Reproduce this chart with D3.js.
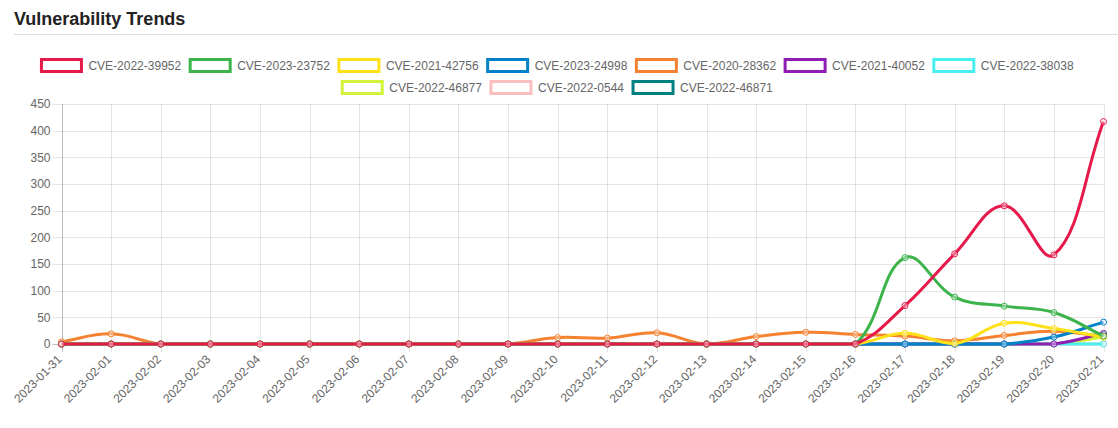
<!DOCTYPE html>
<html>
<head>
<meta charset="utf-8">
<script src="https://cdn.jsdelivr.net/npm/d3@7"></script>
<style>
  html, body { margin: 0; padding: 0; background: #fff; }
  body { width: 1118px; height: 428px; overflow: hidden; font-family: "Liberation Sans", Arial, Helvetica, sans-serif; }
</style>
</head>
<body>
<svg id="chart" width="1118" height="428"></svg>
<script>
// ---------- DATA ----------
const dates = ["2023-01-31","2023-02-01","2023-02-02","2023-02-03","2023-02-04","2023-02-05","2023-02-06","2023-02-07","2023-02-08","2023-02-09","2023-02-10","2023-02-11","2023-02-12","2023-02-13","2023-02-14","2023-02-15","2023-02-16","2023-02-17","2023-02-18","2023-02-19","2023-02-20","2023-02-21"];
const seriesNames = ["CVE-2022-39952","CVE-2023-23752","CVE-2021-42756","CVE-2023-24998","CVE-2020-28362","CVE-2021-40052","CVE-2022-38038","CVE-2022-46877","CVE-2022-0544","CVE-2022-46871"];
const seriesColors = ["#e6194b","#3cb44b","#ffe119","#0082c8","#f58231","#911eb4","#46f0f0","#d2f53c","#fabebe","#008080"];
const cve_2022_39952 = [0,0,0,0,0,0,0,0,0,0,0,0,0,0,0,0,0,72,169,259,167,417];
const cve_2023_23752 = [0,0,0,0,0,0,0,0,0,0,0,0,0,0,0,0,0,162,88,71,59,15];
const cve_2021_42756 = [0,0,0,0,0,0,0,0,0,0,0,0,0,0,0,0,0,20,1,39,29,13];
const cve_2023_24998 = [0,0,0,0,0,0,0,0,0,0,0,0,0,0,0,0,0,0,0,0,13,41];
const cve_2020_28362 = [4,19,0,0,0,0,0,0,0,0,12,11,21,0,14,22,18,15,6,16,24,14];
const cve_2021_40052 = [0,0,0,0,0,0,0,0,0,0,0,0,0,0,0,0,0,0,0,0,0,20];
const cve_2022_38038 = [0,0,0,0,0,0,0,0,0,0,0,0,0,0,0,0,0,0,0,0,0,0];
const cve_2022_46877 = [0,0,0,0,0,0,0,0,0,0,0,0,0,0,0,0,0,0,0,0,0,13];
const cve_2022_0544  = [0,0,0,0,0,0,0,0,0,0,0,0,0,0,0,0,0,0,0,0,0,0];
const cve_2022_46871 = [0,0,0,0,0,0,0,0,0,0,0,0,0,0,0,0,0,0,0,0,0,18];
const seriesValues = [cve_2022_39952,cve_2023_23752,cve_2021_42756,cve_2023_24998,cve_2020_28362,cve_2021_40052,cve_2022_38038,cve_2022_46877,cve_2022_0544,cve_2022_46871];
const yTicks = [0,50,100,150,200,250,300,350,400,450];
const titleText = "Vulnerability Trends";

// ---------- LAYOUT ----------
const svg = d3.select("#chart");
const area = {left: 61.5, right: 1103.5, top: 104, bottom: 344};
const font = '"Liberation Sans", Arial, Helvetica, sans-serif';

// title
svg.append("text").attr("x", 14).attr("y", 25)
  .attr("font-family", font).attr("font-weight", "bold").attr("font-size", 18)
  .attr("fill", "#222").text(titleText);
svg.append("line").attr("x1", 14).attr("x2", 1118).attr("y1", 34.5).attr("y2", 34.5)
  .attr("stroke", "#dedede").attr("stroke-width", 1);

const x = d3.scalePoint().domain(dates).range([area.left, area.right]);
const y = d3.scaleLinear().domain([0, 450]).range([area.bottom, area.top]);

// grid
const grid = svg.append("g");
yTicks.forEach(t => {
  grid.append("line").attr("x1", area.left - 9).attr("x2", area.right)
    .attr("y1", Math.round(y(t)) + 0.5).attr("y2", Math.round(y(t)) + 0.5)
    .attr("stroke", t === 0 ? "rgba(0,0,0,0.25)" : "rgba(0,0,0,0.1)");
});
dates.forEach((d, i) => {
  grid.append("line").attr("x1", Math.round(x(d)) + 0.5).attr("x2", Math.round(x(d)) + 0.5)
    .attr("y1", area.top).attr("y2", area.bottom + 8)
    .attr("stroke", i === 0 ? "rgba(0,0,0,0.25)" : "rgba(0,0,0,0.1)");
});

// y labels
svg.append("g").selectAll("text").data(yTicks).join("text")
  .attr("x", area.left - 11).attr("y", t => y(t))
  .attr("dy", "0.35em").attr("text-anchor", "end")
  .attr("font-family", font).attr("font-size", 12).attr("fill", "#666")
  .text(t => t);

// x labels
svg.append("g").selectAll("text").data(dates).join("text")
  .attr("transform", d => `translate(${x(d) - 2},${area.bottom + 13}) rotate(-45)`)
  .attr("text-anchor", "end").attr("dy", "0.35em")
  .attr("font-family", font).attr("font-size", 12).attr("fill", "#666")
  .text(d => d);

// Chart.js-like spline
function splinePath(pts, t) {
  const n = pts.length;
  const cps = pts.map((cur, i) => {
    const prev = i > 0 ? pts[i - 1] : cur;
    const next = i < n - 1 ? pts[i + 1] : cur;
    const d01 = Math.hypot(cur[0] - prev[0], cur[1] - prev[1]);
    const d12 = Math.hypot(next[0] - cur[0], next[1] - cur[1]);
    let s01 = d01 / (d01 + d12), s12 = d12 / (d01 + d12);
    if (isNaN(s01)) s01 = 0; if (isNaN(s12)) s12 = 0;
    const fa = t * s01, fb = t * s12;
    const clampX = v => Math.max(area.left, Math.min(area.right, v));
    const clampY = v => Math.max(area.top, Math.min(area.bottom, v));
    return {
      p: [clampX(cur[0] - fa * (next[0] - prev[0])), clampY(cur[1] - fa * (next[1] - prev[1]))],
      n: [clampX(cur[0] + fb * (next[0] - prev[0])), clampY(cur[1] + fb * (next[1] - prev[1]))]
    };
  });
  const path = d3.path();
  path.moveTo(pts[0][0], pts[0][1]);
  for (let i = 1; i < n; i++) {
    path.bezierCurveTo(cps[i - 1].n[0], cps[i - 1].n[1], cps[i].p[0], cps[i].p[1], pts[i][0], pts[i][1]);
  }
  return path.toString();
}

// lines (draw in reverse so first dataset is on top)
const linesG = svg.append("g");
for (let s = seriesNames.length - 1; s >= 0; s--) {
  const pts = seriesValues[s].map((v, i) => [x(dates[i]), y(v)]);
  const g = linesG.append("g");
  g.append("path").attr("d", splinePath(pts, 0.4))
    .attr("fill", "none").attr("stroke", seriesColors[s]).attr("stroke-width", 3);
  g.selectAll("circle").data(pts).join("circle")
    .attr("cx", p => p[0]).attr("cy", p => p[1]).attr("r", 3)
    .attr("fill", "rgba(255,255,255,0.35)").attr("stroke", seriesColors[s]).attr("stroke-width", 1);
}

// legend (Chart.js-like wrap, centered)
const legendG = svg.append("g");
const measure = svg.append("text").attr("font-family", font).attr("font-size", 12).attr("visibility", "hidden");
const items = seriesNames.map((name, i) => {
  measure.text(name);
  return {name, color: seriesColors[i], w: 40 + 6 + measure.node().getComputedTextLength()};
});
measure.remove();
const maxW = 1100, centerX = 557, pad = 10;
const rows = [[]]; let rowW = 0;
items.forEach(it => {
  const need = rowW === 0 ? it.w : rowW + pad + it.w;
  if (need > maxW && rowW > 0) { rows.push([it]); rowW = it.w; }
  else { rows[rows.length - 1].push(it); rowW = need; }
});
rows.forEach((row, r) => {
  const total = d3.sum(row, d => d.w) + pad * (row.length - 1);
  let cx = centerX - total / 2;
  const top = 59.5 + r * 22;
  row.forEach(it => {
    legendG.append("rect").attr("x", cx).attr("y", top).attr("width", 40).attr("height", 12)
      .attr("fill", "#fff").attr("stroke", it.color).attr("stroke-width", 3);
    legendG.append("text").attr("x", cx + 47).attr("y", top + 6).attr("dy", "0.35em")
      .attr("font-family", font).attr("font-size", 12).attr("fill", "#666").text(it.name);
    cx += it.w + pad;
  });
});
</script>
</body>
</html>
